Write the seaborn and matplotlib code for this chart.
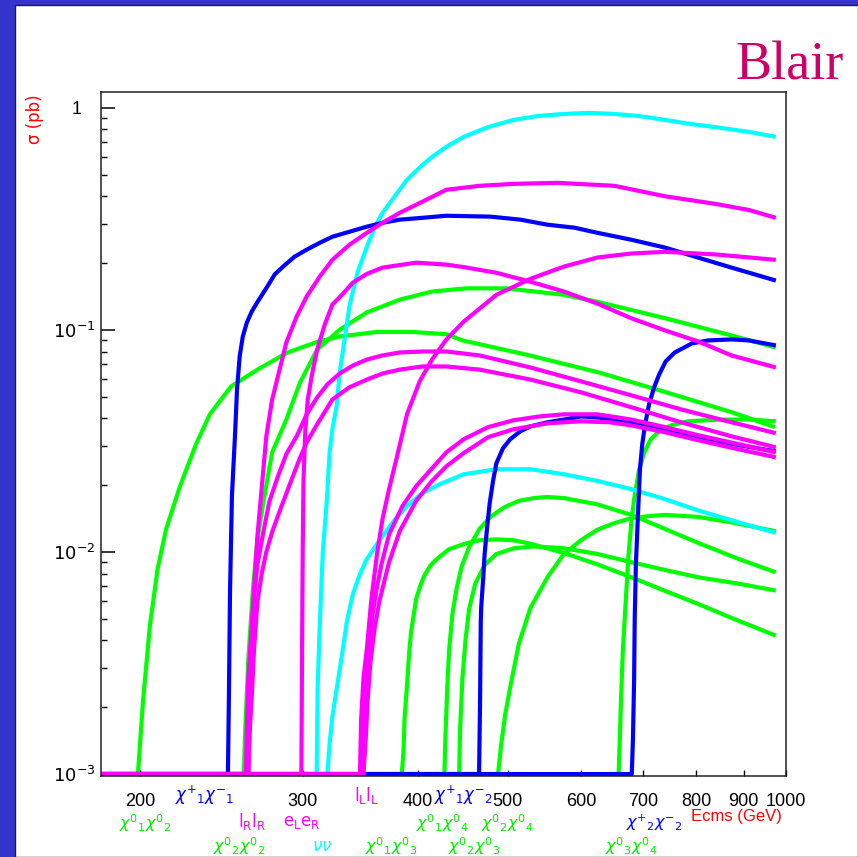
import numpy as np
import pandas as pd
import matplotlib
matplotlib.use("Agg")
import matplotlib.pyplot as plt
import matplotlib.transforms as mtrans
from matplotlib.patches import Rectangle
from matplotlib.ticker import FixedLocator, NullLocator, LogLocator, NullFormatter
import seaborn as sns

# ---- cross sections sigma(E) in pb, E = Ecms in GeV ----
chi01chi02_E = [199, 201.5, 205, 209, 213.5, 221, 230, 238, 251, 268, 289, 312, 329, 361, 394, 429, 447, 528, 627, 742, 874, 973]
chi01chi02_sigma = [0.001, 0.00212, 0.00465, 0.0084, 0.0127, 0.0198, 0.0306, 0.0417, 0.0557, 0.0663, 0.0792, 0.0888, 0.0935, 0.098, 0.098, 0.0957, 0.0897, 0.0768, 0.0644, 0.0524, 0.0426, 0.0365]

chi02chi02_E = [259, 260, 262, 265, 268, 272, 278, 288, 298, 311, 329, 352, 382, 414, 451, 498, 575, 625, 740, 873, 975]
chi02chi02_sigma = [0.001, 0.0016, 0.0033, 0.0068, 0.0114, 0.0168, 0.0281, 0.0395, 0.058, 0.0816, 0.1003, 0.12, 0.137, 0.149, 0.154, 0.154, 0.144, 0.134, 0.113, 0.0945, 0.0834]

chi01chi03_E = [384, 385.6, 386.6, 389, 391, 393, 398, 402, 406, 412, 419, 432, 448, 466, 486, 507, 529, 575, 625, 680, 740, 803, 873, 975]
chi01chi03_sigma = [0.001, 0.00126, 0.00177, 0.0025, 0.00348, 0.00437, 0.00615, 0.00703, 0.0078, 0.00865, 0.0093, 0.0103, 0.01086, 0.0113, 0.0114, 0.0113, 0.0109, 0.0099, 0.0088, 0.0077, 0.00668, 0.00584, 0.00505, 0.0042]

chi01chi04_E = [427, 428, 430, 432, 435.6, 440, 445.6, 454, 466, 479, 495.6, 514, 534, 552, 575, 625, 680, 740, 803, 889, 975]
chi01chi04_sigma = [0.001, 0.00144, 0.00242, 0.0036, 0.00526, 0.0068, 0.00857, 0.0105, 0.0127, 0.0144, 0.0159, 0.017, 0.0175, 0.0177, 0.0175, 0.0164, 0.0147, 0.0127, 0.011, 0.0093, 0.0081]

chi02chi03_E = [443, 444, 446.6, 450, 454, 461, 472, 486, 508, 534, 575, 625, 680, 740, 803, 889, 975]
chi02chi03_sigma = [0.001, 0.0016, 0.0027, 0.004, 0.0055, 0.00718, 0.00874, 0.0098, 0.0104, 0.0106, 0.0104, 0.0098, 0.009, 0.0083, 0.0077, 0.0072, 0.0067]

chi02chi04_E = [488, 492, 497, 503, 514, 529, 552, 575, 600, 625, 652, 680, 709, 740, 803, 873, 975]
chi02chi04_sigma = [0.001, 0.00137, 0.00187, 0.00245, 0.00386, 0.0056, 0.0077, 0.0098, 0.0113, 0.0126, 0.0135, 0.0142, 0.0145, 0.0147, 0.0144, 0.0136, 0.0124]

chi03chi04_E = [659, 661, 663, 666, 670, 675, 680, 685, 693, 702, 714, 729, 751, 783, 846, 912, 975]
chi03chi04_sigma = [0.001, 0.00144, 0.00218, 0.0036, 0.0055, 0.0093, 0.0134, 0.0173, 0.0231, 0.0279, 0.0322, 0.035, 0.0372, 0.0388, 0.0395, 0.0395, 0.0388]

nunu1_E = [310.6, 311.4, 313, 315.4, 318.5, 320.8, 323, 326.4, 329, 333, 337, 343.8, 352, 358.8, 366, 377, 389, 401, 414, 429, 448, 476, 507, 539, 575, 612, 652, 693, 740, 787, 838, 912, 975]
nunu1_sigma = [0.001, 0.0025, 0.00465, 0.01, 0.0168, 0.0281, 0.0357, 0.0453, 0.0644, 0.0905, 0.1275, 0.181, 0.237, 0.289, 0.337, 0.398, 0.475, 0.537, 0.602, 0.668, 0.741, 0.82, 0.883, 0.92, 0.94, 0.95, 0.94, 0.92, 0.883, 0.848, 0.82, 0.78, 0.741]

nunu2_E = [319, 320.8, 323, 327, 331, 335, 340, 346, 352, 359, 366, 377, 389, 404, 422, 448, 486, 529, 575, 625, 680, 740, 803, 873, 975]
nunu2_sigma = [0.001, 0.00137, 0.00181, 0.00252, 0.00348, 0.0049, 0.00648, 0.00796, 0.0093, 0.0105, 0.0118, 0.0139, 0.0161, 0.0184, 0.0202, 0.0224, 0.0236, 0.0236, 0.0224, 0.0209, 0.0192, 0.0173, 0.0154, 0.0139, 0.0122]

chi1pchi1m_E = [249, 249.6, 250.3, 251.5, 253.4, 254.7, 256.4, 258.4, 261, 264.2, 267.8, 274.7, 279.8, 285.7, 294, 303, 313, 323, 337, 352, 366, 382, 404, 429, 479, 516, 552, 590, 625, 680, 740, 803, 873, 975]
chi1pchi1m_sigma = [0.001, 0.00218, 0.0066, 0.0179, 0.0332, 0.0539, 0.076, 0.0935, 0.108, 0.121, 0.133, 0.157, 0.178, 0.193, 0.214, 0.230, 0.247, 0.263, 0.277, 0.292, 0.304, 0.314, 0.32, 0.327, 0.324, 0.314, 0.298, 0.289, 0.274, 0.255, 0.235, 0.212, 0.191, 0.167]

chi1pchi2m_E = [465.5, 466.6, 467.5, 468, 470.4, 472, 475, 478, 482, 486, 494, 503, 516, 529, 552, 575, 600, 625, 652, 680, 740, 803, 889, 975]
chi1pchi2m_sigma = [0.001, 0.00205, 0.0049, 0.00566, 0.0077, 0.0098, 0.013, 0.0166, 0.0209, 0.0251, 0.0293, 0.0322, 0.035, 0.0368, 0.0384, 0.0395, 0.0408, 0.0404, 0.0395, 0.0384, 0.0357, 0.0329, 0.0303, 0.0284]

chi2pchi2m_E = [681, 683, 685, 686, 688, 692, 695, 699, 704, 711, 720, 729, 741, 758, 791, 823, 873, 912, 975]
chi2pchi2m_sigma = [0.001, 0.00144, 0.0027, 0.005, 0.0088, 0.0156, 0.0236, 0.0306, 0.0376, 0.0463, 0.0552, 0.063, 0.0722, 0.0792, 0.087, 0.0897, 0.0907, 0.0897, 0.0852]

lRlR1_E = [262, 263, 264.5, 268, 272, 274, 278, 288, 295.5, 303, 313, 323, 337, 352, 366, 382, 404, 429, 466, 507, 566, 652, 740, 838, 912, 975]
lRlR1_sigma = [0.001, 0.00218, 0.005, 0.0118, 0.0236, 0.0332, 0.0486, 0.0879, 0.115, 0.1415, 0.174, 0.207, 0.242, 0.274, 0.304, 0.337, 0.378, 0.428, 0.446, 0.455, 0.46, 0.446, 0.40, 0.37, 0.347, 0.32]

lRlR2_E = [260.4, 261, 262, 263.6, 265.7, 268, 272, 276, 281.8, 288, 295.5, 303, 311, 319, 329, 340, 352, 366, 382, 404, 429, 466, 529, 600, 680, 770, 873, 975]
lRlR2_sigma = [0.001, 0.0016, 0.0027, 0.004, 0.00615, 0.0088, 0.0123, 0.0168, 0.0217, 0.0276, 0.0332, 0.0417, 0.0497, 0.0569, 0.0637, 0.0692, 0.0736, 0.0768, 0.0792, 0.080, 0.080, 0.0768, 0.0678, 0.0587, 0.0508, 0.0439, 0.0384, 0.0343]

lRlR3_E = [262, 263, 264.5, 265.7, 268, 270.8, 274, 278, 283, 290, 297.6, 303, 311, 323, 337, 352, 366, 382, 404, 429, 466, 529, 600, 680, 770, 873, 975]
lRlR3_sigma = [0.001, 0.0016, 0.00242, 0.0036, 0.00596, 0.00796, 0.01, 0.0123, 0.0151, 0.0198, 0.0262, 0.0312, 0.0376, 0.0486, 0.0552, 0.0598, 0.0637, 0.0663, 0.0685, 0.0685, 0.0663, 0.0598, 0.0524, 0.0449, 0.0384, 0.0332, 0.0296]

eLeR_E = [299, 299.5, 300, 300.6, 302, 303.8, 307, 311, 317, 323, 331, 340, 352, 366, 398, 429, 448, 486, 529, 575, 625, 680, 740, 803, 873, 975]
eLeR_sigma = [0.001, 0.0036, 0.0103, 0.0213, 0.0357, 0.0486, 0.063, 0.0816, 0.106, 0.13, 0.1444, 0.1635, 0.179, 0.191, 0.201, 0.197, 0.192, 0.181, 0.165, 0.149, 0.1315, 0.113, 0.0995, 0.0889, 0.0768, 0.0678]

lLlL1_E = [346, 347, 349, 352, 356, 361, 366, 372, 380, 389, 401.5, 414, 429, 448, 486, 529, 575, 625, 680, 740, 838, 975]
lLlL1_sigma = [0.001, 0.00177, 0.0027, 0.00367, 0.00615, 0.0098, 0.0141, 0.0192, 0.0276, 0.0417, 0.0587, 0.0736, 0.0905, 0.109, 0.144, 0.17, 0.193, 0.212, 0.221, 0.225, 0.219, 0.207]

lLlL2_E = [346.6, 348.4, 350, 352, 354.4, 357, 360.6, 365, 372, 384.6, 398, 414, 429, 448, 476, 507, 541, 575, 625, 680, 740, 803, 889, 975]
lLlL2_sigma = [0.001, 0.00144, 0.00218, 0.00298, 0.004, 0.00526, 0.0068, 0.0088, 0.012, 0.0161, 0.0198, 0.0238, 0.0281, 0.0322, 0.0365, 0.0392, 0.0408, 0.0417, 0.0417, 0.0395, 0.0365, 0.0336, 0.0306, 0.0281]

lLlL3_E = [349, 351, 352.6, 355, 358.8, 363, 372, 382, 398, 414, 429, 448, 476, 507, 552, 600, 644, 680, 740, 803, 889, 975]
lLlL3_sigma = [0.001, 0.00144, 0.00212, 0.00314, 0.0045, 0.00596, 0.009, 0.0124, 0.017, 0.0209, 0.0243, 0.0279, 0.0329, 0.0357, 0.038, 0.0388, 0.0384, 0.0372, 0.0346, 0.0319, 0.029, 0.0267]

curves = [
    # (name, E, sigma, colour) in drawing order
    ("chi01chi02", chi01chi02_E, chi01chi02_sigma, "#00ff00"),
    ("chi02chi02", chi02chi02_E, chi02chi02_sigma, "#00ff00"),
    ("chi01chi03", chi01chi03_E, chi01chi03_sigma, "#00ff00"),
    ("chi01chi04", chi01chi04_E, chi01chi04_sigma, "#00ff00"),
    ("chi02chi03", chi02chi03_E, chi02chi03_sigma, "#00ff00"),
    ("chi02chi04", chi02chi04_E, chi02chi04_sigma, "#00ff00"),
    ("chi03chi04", chi03chi04_E, chi03chi04_sigma, "#00ff00"),
    ("nunu1", nunu1_E, nunu1_sigma, "#00ffff"),
    ("nunu2", nunu2_E, nunu2_sigma, "#00ffff"),
    ("chi1pchi1m", chi1pchi1m_E, chi1pchi1m_sigma, "#0000ff"),
    ("chi1pchi2m", chi1pchi2m_E, chi1pchi2m_sigma, "#0000ff"),
    ("chi2pchi2m", chi2pchi2m_E, chi2pchi2m_sigma, "#0000ff"),
    ("lRlR1", lRlR1_E, lRlR1_sigma, "#ff00ff"),
    ("lRlR2", lRlR2_E, lRlR2_sigma, "#ff00ff"),
    ("lRlR3", lRlR3_E, lRlR3_sigma, "#ff00ff"),
    ("eLeR", eLeR_E, eLeR_sigma, "#ff00ff"),
    ("lLlL1", lLlL1_E, lLlL1_sigma, "#ff00ff"),
    ("lLlL2", lLlL2_E, lLlL2_sigma, "#ff00ff"),
    ("lLlL3", lLlL3_E, lLlL3_sigma, "#ff00ff"),
]

E_MIN, E_MAX = 181.5, 1000.0
SIG_FLOOR = 1e-3
SIG_MIN, SIG_MAX = 0.00098, 1.18

xticks = [200, 300, 400, 500, 600, 700, 800, 900, 1000]
xticklabels = ["200", "300", "400", "500", "600", "700", "800", "900", "1000"]
yticks = [1e-3, 1e-2, 1e-1, 1]
yticklabels = [r"$10^{-3}$", r"$10^{-2}$", r"$10^{-1}$", "1"]

# below threshold every curve rests on the 1e-3 floor of the plot
rows = []
for name, E, sig, col in curves:
    rows.append(pd.DataFrame({"process": name, "E": [E_MIN] + list(E), "sigma": [SIG_FLOOR] + list(sig)}))
df = pd.concat(rows, ignore_index=True)
palette = {name: col for name, _, _, col in curves}
hue_order = [name for name, *_ in curves]

plt.rcParams["mathtext.fontset"] = "dejavusans"

W, H = 858, 857
fig = plt.figure(figsize=(W / 100, H / 100), dpi=100)
fig.patch.set_facecolor("#3434cc")
fig.patches.append(Rectangle((15 / W, 0), 1 - 15 / W, 1 - 5 / H, transform=fig.transFigure,
                             facecolor="white", edgecolor="#202020", lw=1.0, zorder=-5))

ax = fig.add_axes([101 / W, 1 - 776 / H, 685 / W, 684 / H])
ax.set_zorder(2)
ax.set_xscale("log")
ax.set_yscale("log")
ax.set_facecolor("white")

sns.lineplot(data=df, x="E", y="sigma", hue="process", hue_order=hue_order, palette=palette,
             units="process", estimator=None, sort=False, legend=False, lw=3.0, ax=ax)
for ln in ax.get_lines():
    ln.set_solid_capstyle("butt")
    ln.set_solid_joinstyle("round")

ax.set_xlim(E_MIN, E_MAX)
ax.set_ylim(SIG_MIN, SIG_MAX)
ax.set_xlabel("")
ax.set_ylabel("")

ax.xaxis.set_major_locator(FixedLocator(xticks))
ax.xaxis.set_minor_locator(NullLocator())
ax.set_xticklabels(xticklabels)
ax.yaxis.set_major_locator(FixedLocator(yticks))
ax.set_yticklabels(yticklabels)
ax.yaxis.set_minor_locator(LogLocator(base=10, subs=np.arange(2, 10)))
ax.yaxis.set_minor_formatter(NullFormatter())

for lab in ax.get_xticklabels() + ax.get_yticklabels():
    lab.set_fontfamily("Liberation Sans")
    lab.set_fontsize(13)
ax.tick_params(axis="x", which="major", direction="in", length=4, width=1.0, pad=12, top=False, colors="black")
ax.tick_params(axis="y", which="major", direction="in", length=10, width=1.1, pad=4, right=False)
ax.tick_params(axis="y", which="minor", direction="in", length=4.5, width=1.0, right=False)
for s in ax.spines.values():
    s.set_color("#202020")
    s.set_linewidth(1.1)

# the plain "1" sits where the mantissa of the other labels ends
one = ax.get_yticklabels()[-1]
one.set_transform(one.get_transform() + mtrans.ScaledTranslation(-0.14, 0, fig.dpi_scale_trans))


def ftxt(x, y, s, color, size=12, **kw):
    fig.text(x / W, 1 - y / H, s, color=color, fontsize=size, ha="center", va="center", **kw)


blue, green, mag, cyan, red = "#0000ff", "#00ee00", "#ff00ff", "#00ffff", "#ff0000"
ftxt(205, 795, r"$\chi^{+}{}_{1}\chi^{-}{}_{1}$", blue)
ftxt(366, 795, r"$\mathrm{l_L l_L}$", mag)
ftxt(464, 795, r"$\chi^{+}{}_{1}\chi^{-}{}_{2}$", blue)
ftxt(145, 823, r"$\chi^{0}{}_{1}\chi^{0}{}_{2}$", green, size=11.5)
ftxt(252, 822, r"$\mathrm{l_R l_R}$", mag)
ftxt(302, 822, r"$\mathrm{e_L e_R}$", mag)
ftxt(442, 823, r"$\chi^{0}{}_{1}\chi^{0}{}_{4}$", green, size=11.5)
ftxt(507, 823, r"$\chi^{0}{}_{2}\chi^{0}{}_{4}$", green, size=11.5)
ftxt(654, 823, r"$\chi^{+}{}_{2}\chi^{-}{}_{2}$", blue, size=11.5)
ftxt(736, 817, "Ecms (GeV)", red, size=12, family="Liberation Sans")
ftxt(239, 846, r"$\chi^{0}{}_{2}\chi^{0}{}_{2}$", green, size=11.5)
ftxt(322, 846, r"$\nu\nu$", cyan)
ftxt(391, 846, r"$\chi^{0}{}_{1}\chi^{0}{}_{3}$", green, size=11.5)
ftxt(474, 846, r"$\chi^{0}{}_{2}\chi^{0}{}_{3}$", green, size=11.5)
ftxt(631, 846, r"$\chi^{0}{}_{3}\chi^{0}{}_{4}$", green, size=11.5)

fig.text(35 / W, 1 - 119 / H, "σ (pb)", color=red, fontsize=12, rotation=90, ha="center", va="center",
         family="DejaVu Sans")
fig.text(790 / W, 1 - 66 / H, "Blair", color="#cc0066", fontsize=39, ha="center", va="center",
         family="Liberation Serif")

fig.savefig("out.png", dpi=100, facecolor=fig.get_facecolor())
